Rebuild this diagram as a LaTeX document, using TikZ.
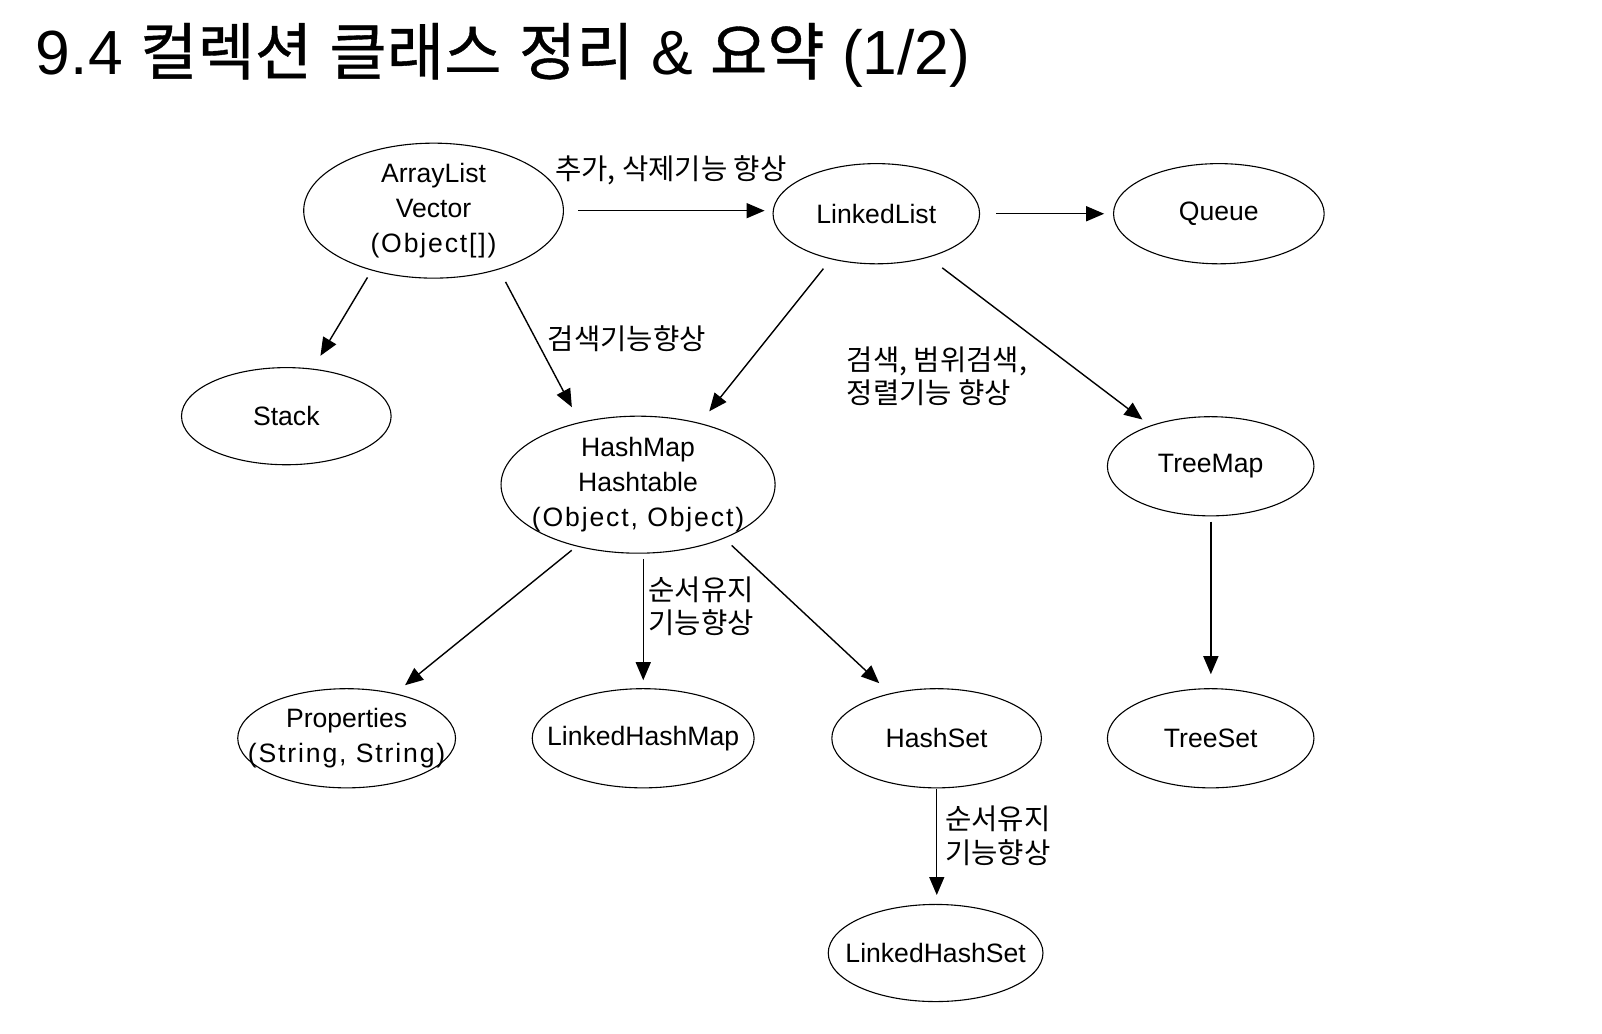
\documentclass[tikz,border=0pt]{standalone}
\usepackage{fontspec}
\setmainfont{Liberation Sans}
\newfontfamily\kr{Noto Sans CJK KR}
\newfontfamily\krt[FakeBold=0.6]{Noto Sans CJK KR}
\newfontfamily\wide[LetterSpace=7]{Liberation Sans}
\usetikzlibrary{arrows.meta,shapes.geometric,calc}
\begin{document}
\begin{tikzpicture}[x=1pt,y=-1pt,scale=1.0225,
  every node/.append style={transform shape},
  nd/.style={ellipse, draw, line width=1.1pt, inner xsep=-45pt, inner ysep=-25pt, align=center,
    font=\fontsize{26}{34}\selectfont},
  lbl/.style={inner sep=0pt, align=left, font=\kr\fontsize{28}{33}\selectfont},
  arr/.style={line width=1.4pt, -{Triangle[length=18pt,width=15pt]}}]
\useasboundingbox (0,0) rectangle (1566.7,1011.2);
\fill[white] (0,0) rectangle (1566.7,1011.2);

\node[anchor=west, inner sep=0pt, font=\fontsize{61}{63}\selectfont] (title) at (35,54) {9.4 {\krt 컬렉션} {\krt 클래스} {\krt 정리} \& {\krt 요약} (1/2)};

\node[nd, minimum width=254pt, minimum height=132pt] (A) at (424,206) {ArrayList\\Vector\\{\wide (Object[])}};
\node[nd, minimum width=202pt, minimum height=98pt] (L) at (857,209) {LinkedList};
\node[nd, minimum width=206pt, minimum height=98pt] (Q) at (1192,209) {Queue};
\node[nd, minimum width=205pt, minimum height=95pt] (S) at (280,407) {Stack};
\node[nd, minimum width=268pt, minimum height=134pt] (H) at (624,474) {HashMap\\Hashtable\\{\wide (Object, Object)}};
\node[nd, minimum width=202pt, minimum height=97pt] (T) at (1184,456) {TreeMap};
\node[nd, minimum width=213pt, minimum height=97pt] (P) at (339,722) {Properties\\{\wide (String, String)}};
\node[nd, minimum width=217pt, minimum height=97pt] (LHM) at (629,722) {LinkedHashMap};
\node[nd, minimum width=205pt, minimum height=97pt] (HS) at (916,722) {HashSet};
\node[nd, minimum width=202pt, minimum height=97pt] (TS) at (1184,722) {TreeSet};
\node[nd, minimum width=210pt, minimum height=95pt] (LHS) at (915,932) {LinkedHashSet};

\node[lbl] (l1) at (656,167) {추가, 삭제기능 향상};
\node[lbl] (l2) at (613,331) {검색기능향상};
\node[lbl, anchor=west] (l3) at (828,368) {검색, 범위검색,\\정렬기능 향상};
\node[lbl, anchor=west] (l4) at (634,593) {순서유지\\기능향상};
\node[lbl, anchor=west] (l5) at (924,817) {순서유지\\기능향상};

\draw[arr, shorten <=14pt, shorten >=8pt] (A.east) -- (A.east -| L.west);
\draw[arr, shorten <=16pt, shorten >=9pt, yshift=3pt] (L.east) -- (L.east -| Q.west);
\draw[arr, shorten <=8pt, shorten >=15pt] (A.224) -- (S.61);
\draw[arr, shorten <=14pt, shorten >=17pt] (A.318) -- (H.133);
\draw[arr, shorten <=12pt, shorten >=15pt] (L.225) -- (H.45);
\draw[arr, shorten <=17pt, shorten >=10pt] (L.320) -- (T.146);
\draw[arr, shorten <=6pt, shorten >=13pt] (H.225) -- (P.43);
\draw[arr, shorten <=5pt, shorten >=8pt] (LHM.north |- H.south) -- (LHM.north);
\draw[arr, shorten <=10pt, shorten >=15pt] (H.328) -- (HS.136);
\draw[arr, shorten <=5pt, shorten >=14pt, xshift=4pt] (T.south) -- (TS.north);
\draw[arr, shorten >=9pt] (HS.south) -- (HS.south |- LHS.north);
\end{tikzpicture}
\end{document}
